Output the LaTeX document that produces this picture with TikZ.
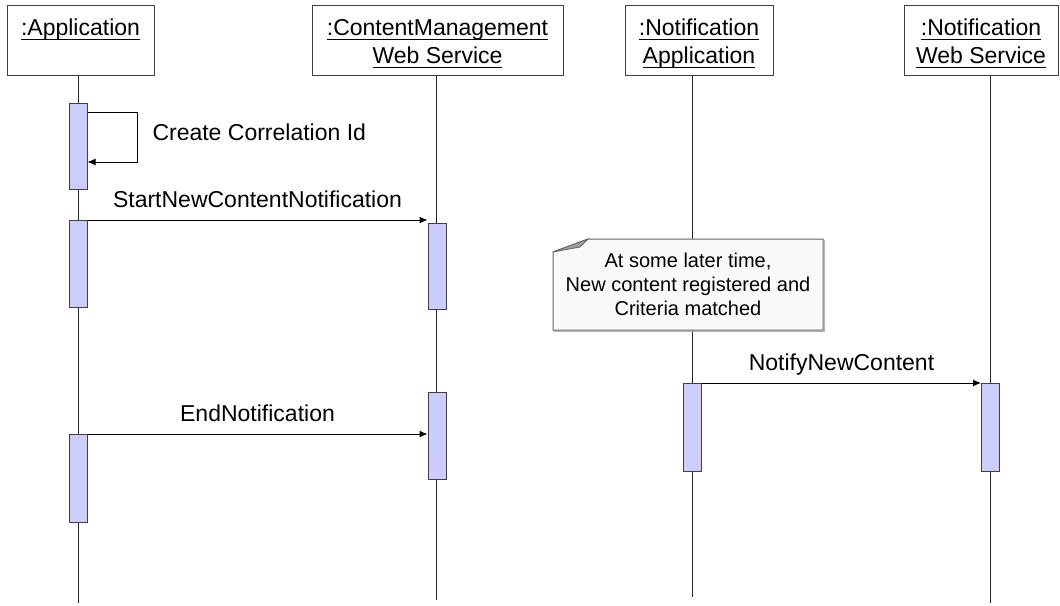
\documentclass[tikz,border=0pt]{standalone}
\usepackage{fontspec}
\setmainfont{Liberation Sans}
\usetikzlibrary{arrows.meta}
\usetikzlibrary{positioning}
\usetikzlibrary{calc}

\definecolor{barfill}{RGB}{204,204,255}
\definecolor{edgegray}{RGB}{64,64,64}
\definecolor{notefill}{RGB}{250,250,250}
\definecolor{notegray}{RGB}{100,100,100}
\definecolor{foldgray}{RGB}{160,160,160}

% underlined object name, rule at a fixed depth
\newcommand{\objname}[1]{\leavevmode\setbox0=\hbox{#1}\rlap{\rule[-4.5pt]{\wd0}{1pt}}\copy0}
\newcommand{\hdrtop}{\rule[-4pt]{0pt}{34pt}}
\newcommand{\hdrbot}{\rule[-12pt]{0pt}{28pt}}

\tikzset{
	objbox/.style={draw=edgegray, line width=1pt, fill=white, minimum height=70pt, anchor=north, align=center, inner ysep=0pt, font=\fontsize{23}{28}\selectfont},
	actbar/.style={draw=edgegray, line width=1pt, fill=barfill, minimum width=18pt, inner sep=0pt, anchor=north},
	lifeline/.style={line width=1pt, color=black!85},
	msg/.style={line width=1pt, ->},
	msglabel/.style={font=\fontsize{23}{28}\selectfont, inner sep=0pt, text height=16pt, text depth=5pt},
	notebody/.style={draw=notegray, fill=notefill, line width=1pt},
	notefold/.style={draw=notegray, fill=foldgray, line width=0.8pt},
	notetext/.style={font=\fontsize{20}{24}\selectfont, align=center, inner sep=0pt}
}

\begin{document}
\begin{tikzpicture}[x=1pt, y=-1pt, >={Latex[length=8pt, width=7pt]}]
	\useasboundingbox (0,0) rectangle (1060,605);

	% Object boxes
	\node[objbox, minimum width=147pt] (app) at (80.5,5) {\rule[-40pt]{0pt}{70pt}\objname{:Application}};
	\node[objbox, minimum width=251pt] (cmws) at (437.5,5) {\hdrtop\objname{:ContentManagement}\\ \hdrbot\objname{Web Service}};
	\node[objbox, minimum width=148pt] (napp) at (699,5) {\hdrtop\objname{:Notification}\\ \hdrbot\objname{Application}};
	\node[objbox, minimum width=154pt] (nws) at (981,5) {\hdrtop\objname{:Notification}\\ \hdrbot\objname{Web Service}};

	% Lifelines
	\coordinate (append) at (78,603);
	\coordinate (cmend) at (436,600);
	\coordinate (naend) at (692,597);
	\coordinate (nwsend) at (990,603);
	\draw[lifeline] (app.south -| append) -- (append);
	\draw[lifeline] (cmws.south -| cmend) -- (cmend);
	\draw[lifeline] (napp.south -| naend) -- (naend);
	\draw[lifeline] (nws.south -| nwsend) -- (nwsend);

	% Activation bars
	\node[actbar, minimum height=86pt] (app1) at (78,103) {};
	\node[actbar, minimum height=87pt] (app2) at (78,220) {};
	\node[actbar, minimum height=88pt] (app3) at (78,434) {};
	\node[actbar, minimum height=86pt] (cm1) at (437,223) {};
	\node[actbar, minimum height=87pt] (cm2) at (437,392) {};
	\node[actbar, minimum height=88pt] (na1) at (692.5,383) {};
	\node[actbar, minimum height=88pt] (nws1) at (990.5,383) {};

	% Self call
	\coordinate (selfout) at (137,112);
	\coordinate (selfback) at (137,162);
	\draw[msg] (app1.east |- selfout) -- (selfout) -- (selfback)
		node[midway, right=15pt, yshift=2pt, msglabel] (selflbl) {Create Correlation Id}
		-- (app1.east |- selfback);

	% Messages
	\draw[msg] (app2.north east) -- (app2.north east -| cm1.west)
		node[midway, above=7pt, msglabel] (startlbl) {StartNewContentNotification};
	\draw[msg] (app3.north east) -- (app3.north east -| cm2.west)
		node[midway, above=7pt, msglabel] (endlbl) {EndNotification};
	\draw[msg] (na1.north east) -- (nws1.north west)
		node[midway, above=7pt, msglabel] (notifylbl) {NotifyNewContent};

	% Note
	\coordinate (notenw) at (553,239);
	\coordinate (notese) at (823,330);
	\draw[line width=1pt, color=black!30] ($(notenw |- notese)+(1,1.5)$) -- ($(notese)+(1.5,1.5)$) -- ($(notenw -| notese)+(1.5,1)$);
	\draw[notebody] ($(notenw)+(35,0)$) -- (notenw -| notese) -- (notese) -- (notenw |- notese) -- ($(notenw)+(0,13)$) -- cycle;
	\draw[notefold] ($(notenw)+(35,0)$) -- ($(notenw)+(27,8)$) -- ($(notenw)+(0,13)$) -- cycle;
	\node[notetext] (note) at ($(notenw)!0.5!(notese)$) {At some later time,\\New content registered and\\Criteria matched};
\end{tikzpicture}
\end{document}
